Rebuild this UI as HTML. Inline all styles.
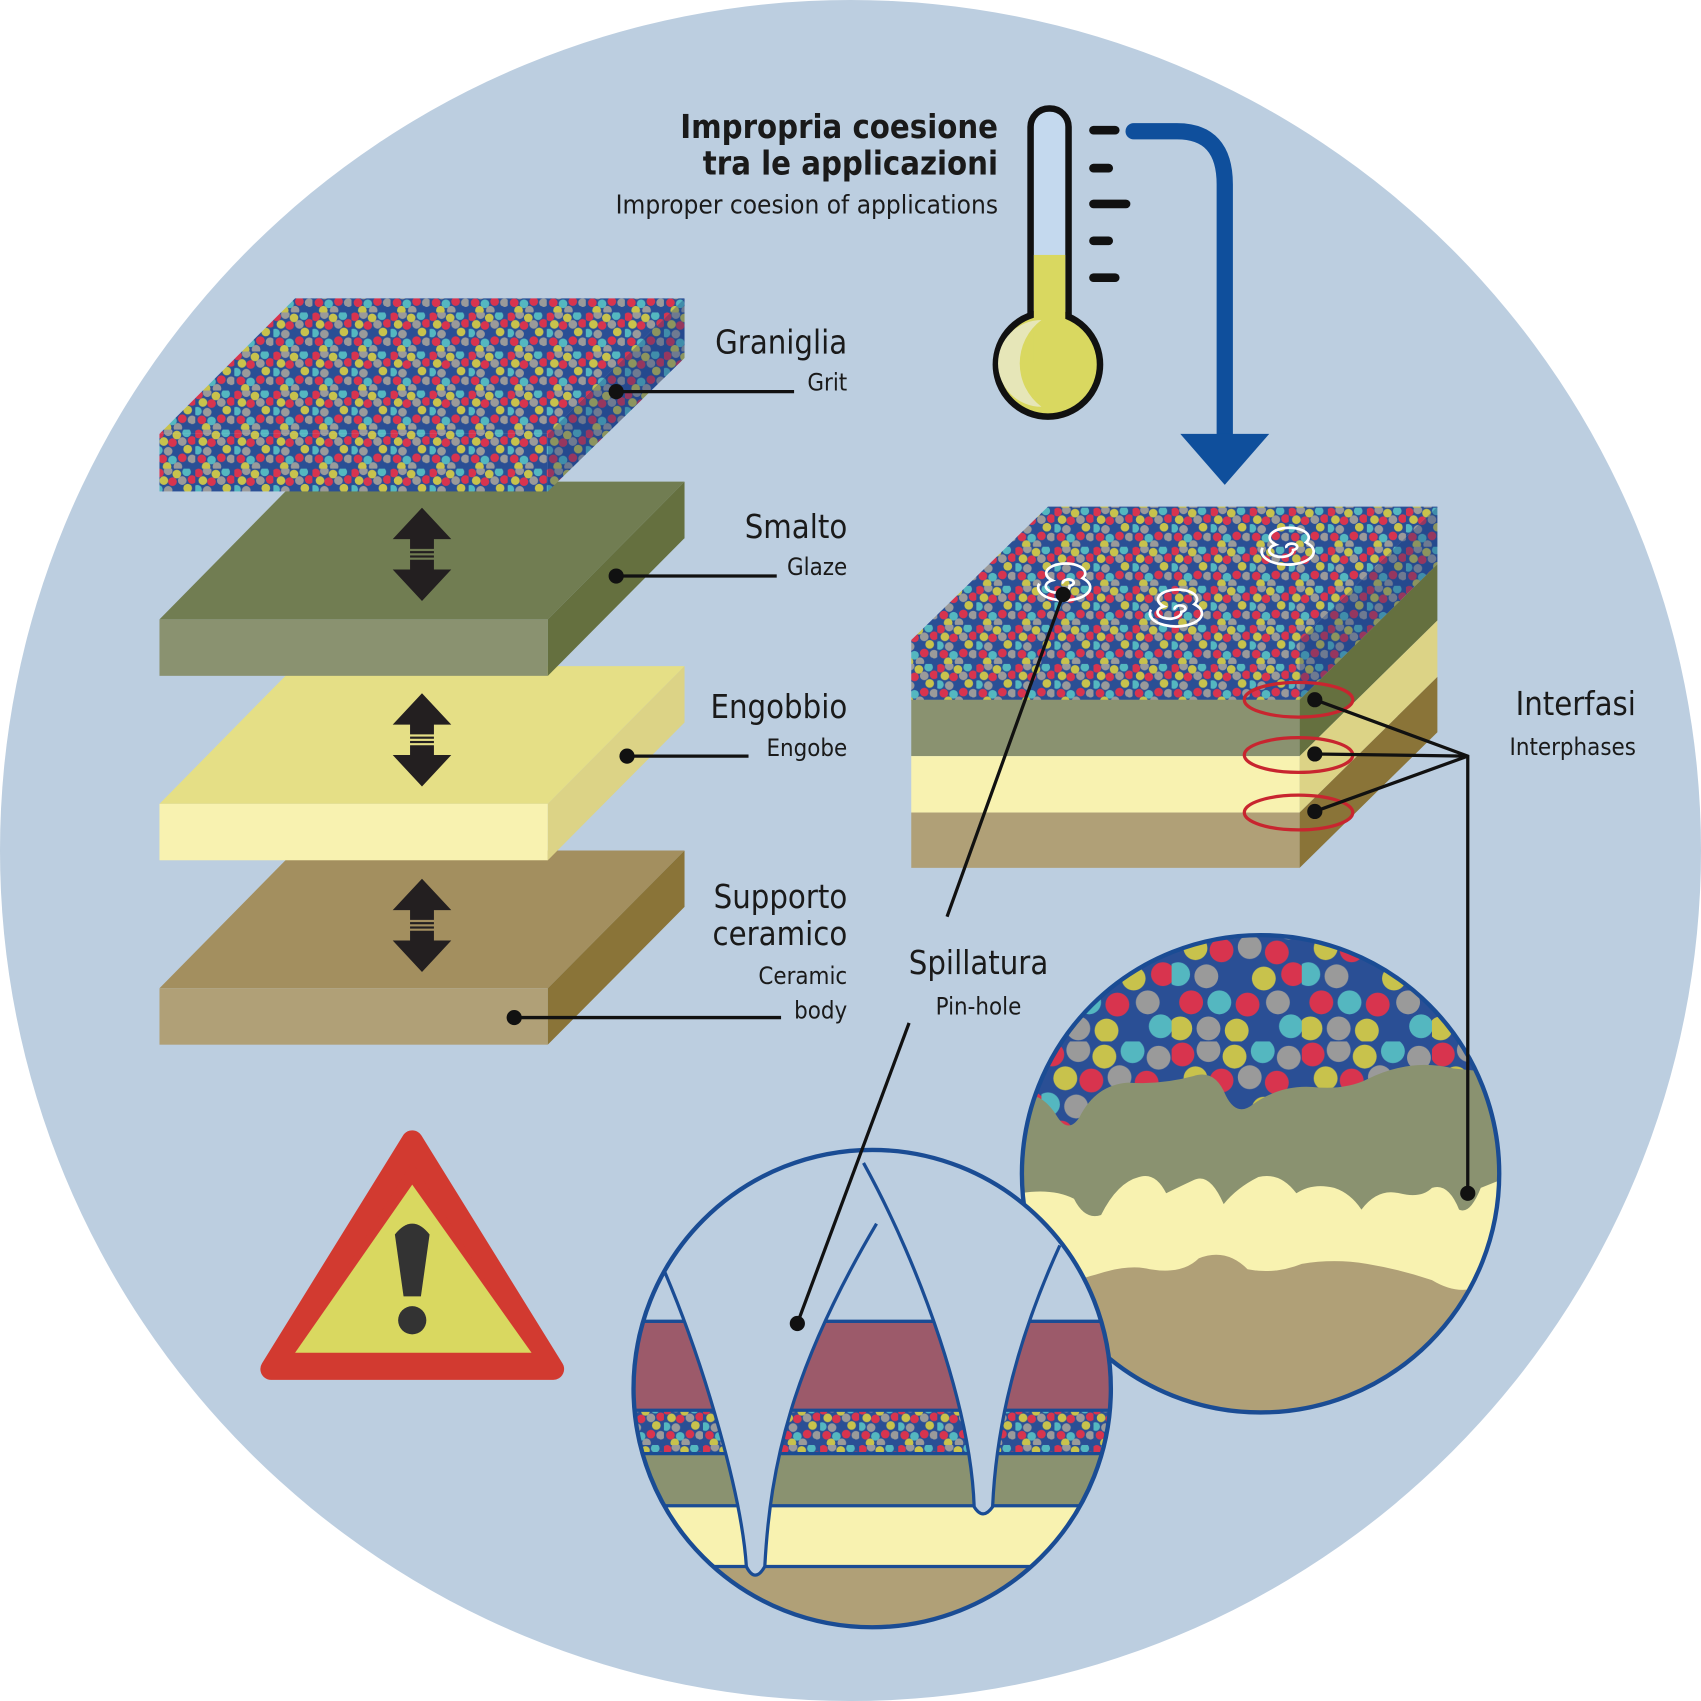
<!DOCTYPE html>
<html><head><meta charset="utf-8"><style>
html,body{margin:0;padding:0;background:#fff}
svg{display:block}
text{font-family:"DejaVu Sans Condensed","Liberation Sans",sans-serif;fill:#1a1a1a}
</style></head><body>
<svg width="1701" height="1701" viewBox="0 0 1568 1568" xmlns="http://www.w3.org/2000/svg">
<defs>
<pattern id="g" width="36" height="36" patternUnits="userSpaceOnUse">
<rect width="36" height="36" fill="#2a4f95"/>
<g>
<circle cx="3" cy="4" r="4" fill="#d8344e"/><circle cx="11" cy="2" r="4" fill="#9a9a9a"/>
<circle cx="19" cy="5" r="4" fill="#c8c24c"/><circle cx="28" cy="3" r="4" fill="#54b7c0"/>
<circle cx="7" cy="11" r="4" fill="#c8c24c"/><circle cx="15" cy="12" r="4" fill="#d8344e"/>
<circle cx="24" cy="11" r="4" fill="#9a9a9a"/><circle cx="33" cy="10" r="4" fill="#d8344e"/>
<circle cx="2" cy="19" r="4" fill="#54b7c0"/><circle cx="11" cy="20" r="4" fill="#9a9a9a"/>
<circle cx="20" cy="19" r="4" fill="#2a4f95"/><circle cx="29" cy="18" r="4" fill="#c8c24c"/>
<circle cx="6" cy="27" r="4" fill="#d8344e"/><circle cx="15" cy="28" r="4" fill="#54b7c0"/>
<circle cx="24" cy="26" r="4" fill="#d8344e"/><circle cx="33" cy="27" r="4" fill="#9a9a9a"/>
<circle cx="10" cy="34" r="4" fill="#c8c24c"/><circle cx="20" cy="34" r="4" fill="#9a9a9a"/>
<circle cx="30" cy="34" r="4" fill="#2a4f95"/>
</g>
</pattern>
<pattern id="gb" width="120" height="120" patternUnits="userSpaceOnUse">
<rect width="120" height="120" fill="#2a4f95"/>
<circle cx="10" cy="12" r="11" fill="#d8344e"/><circle cx="34" cy="8" r="11" fill="#9a9a9a"/>
<circle cx="58" cy="14" r="11" fill="#c8c24c"/><circle cx="84" cy="9" r="11" fill="#54b7c0"/>
<circle cx="108" cy="15" r="11" fill="#9a9a9a"/><circle cx="22" cy="34" r="11" fill="#c8c24c"/>
<circle cx="46" cy="36" r="11" fill="#d8344e"/><circle cx="72" cy="33" r="11" fill="#9a9a9a"/>
<circle cx="97" cy="38" r="11" fill="#d8344e"/><circle cx="6" cy="58" r="11" fill="#54b7c0"/>
<circle cx="32" cy="60" r="11" fill="#9a9a9a"/><circle cx="60" cy="58" r="11" fill="#2a4f95"/>
<circle cx="85" cy="62" r="11" fill="#c8c24c"/><circle cx="112" cy="58" r="11" fill="#d8344e"/>
<circle cx="18" cy="84" r="11" fill="#d8344e"/><circle cx="44" cy="84" r="11" fill="#54b7c0"/>
<circle cx="70" cy="86" r="11" fill="#d8344e"/><circle cx="98" cy="84" r="11" fill="#9a9a9a"/>
<circle cx="8" cy="108" r="11" fill="#c8c24c"/><circle cx="34" cy="108" r="11" fill="#9a9a9a"/>
<circle cx="60" cy="110" r="11" fill="#c8c24c"/><circle cx="86" cy="108" r="11" fill="#2a4f95"/>
<circle cx="110" cy="106" r="11" fill="#54b7c0"/>
</pattern>
<clipPath id="c1"><circle cx="1162" cy="1082" r="220"/></clipPath>
<clipPath id="c2"><circle cx="804" cy="1280" r="220"/></clipPath>
<g id="arr">
<path d="M0 -43 L-27 -14 L-11 -14 L-11 -5 L11 -5 L11 -14 L27 -14 Z" fill="#231f20"/>
<path d="M0 43 L-27 14 L-11 14 L-11 5 L11 5 L11 14 L27 14 Z" fill="#231f20"/>
<rect x="-11" y="-3" width="22" height="2" fill="#231f20"/><rect x="-11" y="1" width="22" height="2" fill="#231f20"/>
</g>
</defs>
<rect width="1568" height="1568" fill="#fff"/>
<circle cx="784" cy="784" r="784" fill="#bccee0"/>

<!-- left stack: supporto -->
<polygon points="147,911 272,784 631,784 505,911" fill="#a38f5f"/>
<rect x="147" y="911" width="358" height="52" fill="#b0a077"/>
<polygon points="505,911 631,784 631,836 505,963" fill="#8a7438"/>
<polygon points="147,741 272,614 631,614 505,741" fill="#e5df86"/>
<rect x="147" y="741" width="358" height="52" fill="#f8f2b0"/>
<polygon points="505,741 631,614 631,666 505,793" fill="#dcd386"/>
<polygon points="147,571 272,444 631,444 505,571" fill="#717d52"/>
<rect x="147" y="571" width="358" height="52" fill="#8a9270"/>
<polygon points="505,571 631,444 631,496 505,623" fill="#65703f"/>
<polygon points="147,400 272,275 631,275 505,400" fill="url(#g)"/>
<rect x="147" y="400" width="358" height="53" fill="url(#g)"/>
<polygon points="505,400 631,275 631,330 505,453" fill="url(#g)"/>
<polygon points="505,400 631,275 631,330 505,453" fill="#1e3f80" opacity="0.35"/>

<use href="#arr" x="389" y="511"/>
<use href="#arr" x="389" y="682"/>
<use href="#arr" x="389" y="853"/>

<g stroke="#111" stroke-width="3"><line x1="568" y1="361" x2="732" y2="361"/><line x1="568" y1="531" x2="716" y2="531"/><line x1="578" y1="697" x2="690" y2="697"/><line x1="474" y1="938" x2="720" y2="938"/></g>
<g fill="#111"><circle cx="568" cy="361" r="7"/><circle cx="568" cy="531" r="7"/><circle cx="578" cy="697" r="7"/><circle cx="474" cy="938" r="7"/></g>
<g text-anchor="end">
<text x="781" y="326" font-size="30">Graniglia</text><text x="781" y="360" font-size="22">Grit</text>
<text x="781" y="496" font-size="30">Smalto</text><text x="781" y="530" font-size="22">Glaze</text>
<text x="781" y="662" font-size="30">Engobbio</text><text x="781" y="697" font-size="22">Engobe</text>
<text x="781" y="837" font-size="30">Supporto</text><text x="781" y="871" font-size="30">ceramico</text>
<text x="781" y="907" font-size="22">Ceramic</text><text x="781" y="939" font-size="22">body</text>
<text x="920" y="127" font-size="30" font-weight="bold">Impropria coesione</text>
<text x="920" y="161" font-size="30" font-weight="bold">tra le applicazioni</text>
<text x="920" y="197" font-size="24">Improper coesion of applications</text>
<text x="1508" y="659" font-size="30">Interfasi</text><text x="1508" y="696" font-size="22">Interphases</text>
</g>
<text x="902" y="898" font-size="30" text-anchor="middle">Spillatura</text>
<text x="902" y="935" font-size="22" text-anchor="middle">Pin-hole</text>

<!-- thermometer -->
<rect x="950" y="100" width="35" height="230" rx="17" fill="#c4d9ee" stroke="#111" stroke-width="6"/>
<circle cx="966" cy="336" r="48" fill="#d9d860" stroke="#111" stroke-width="6"/>
<rect x="953" y="235" width="29" height="100" fill="#d9d860"/>
<path d="M960 295 a40 40 0 0 0 0 80 a50 50 0 0 1 0 -80z" fill="#e6e6b8"/>
<g stroke="#111" stroke-width="8" stroke-linecap="round"><line x1="1008" y1="120" x2="1028" y2="120"/><line x1="1008" y1="155" x2="1022" y2="155"/><line x1="1008" y1="188" x2="1038" y2="188"/><line x1="1008" y1="222" x2="1022" y2="222"/><line x1="1008" y1="256" x2="1028" y2="256"/></g>
<path d="M1045 121 L1085 121 Q1129 121 1129 170 L1129 405" fill="none" stroke="#0f4f9c" stroke-width="15" stroke-linecap="round"/>
<polygon points="1088,400 1170,400 1129,447" fill="#0f4f9c"/>

<!-- right block -->
<polygon points="840,590 966,467 1325,467 1198,590" fill="url(#g)"/>
<rect x="840" y="590" width="358" height="56" fill="url(#g)"/>
<rect x="840" y="645" width="358" height="52" fill="#8a9270"/>
<rect x="840" y="697" width="358" height="52" fill="#f8f2b0"/>
<rect x="840" y="749" width="358" height="51" fill="#b0a077"/>
<polygon points="1198,590 1325,467 1325,520 1198,645" fill="url(#g)"/>
<polygon points="1198,590 1325,467 1325,520 1198,645" fill="#1e3f80" opacity="0.35"/>
<polygon points="1198,645 1325,520 1325,572 1198,697" fill="#65703f"/>
<polygon points="1198,697 1325,572 1325,624 1198,749" fill="#dcd386"/>
<polygon points="1198,749 1325,624 1325,675 1198,800" fill="#8a7438"/>
<g fill="none" stroke="#fff" stroke-width="2.5">
<path d="M980 538 a5 3 0 1 1 6 2 a11 6 0 1 1 -16 -5 a18 9 0 1 1 28 -2 a24 12 0 1 1 -40 5"/>
<path d="M1083 562 a5 3 0 1 1 6 2 a11 6 0 1 1 -16 -5 a18 9 0 1 1 28 -2 a24 12 0 1 1 -40 5"/>
<path d="M1186 505 a5 3 0 1 1 6 2 a11 6 0 1 1 -16 -5 a18 9 0 1 1 28 -2 a24 12 0 1 1 -40 5"/>
</g>
<g fill="none" stroke="#c8252f" stroke-width="3"><ellipse cx="1197" cy="645" rx="50" ry="16"/><ellipse cx="1197" cy="696" rx="50" ry="16"/><ellipse cx="1197" cy="749" rx="50" ry="16"/></g>

<!-- magnified right -->
<g clip-path="url(#c1)">
<rect x="940" y="860" width="450" height="450" fill="url(#gb)"/>
<path d="M940 1010 Q960 1005 975 1030 Q985 1045 995 1030 Q1010 1000 1040 998 Q1070 1000 1100 992 Q1120 985 1130 1010 Q1140 1030 1155 1018 Q1180 1000 1210 1002 Q1240 1005 1260 995 Q1300 975 1340 985 L1390 990 L1390 1320 L940 1320Z" fill="#8a9270"/>
<path d="M940 1100 Q970 1095 990 1105 Q1000 1125 1015 1120 Q1030 1090 1050 1085 Q1065 1080 1075 1100 Q1085 1095 1100 1088 Q1115 1080 1128 1110 Q1140 1095 1160 1085 Q1180 1080 1195 1100 Q1210 1090 1230 1095 Q1245 1100 1255 1115 Q1270 1095 1290 1100 Q1310 1105 1320 1095 Q1335 1090 1345 1115 Q1355 1120 1365 1095 L1390 1085 L1390 1320 L940 1320Z" fill="#f8f2b0"/>
<path d="M940 1200 Q990 1180 1010 1175 Q1040 1165 1060 1170 Q1090 1175 1105 1160 Q1130 1150 1150 1170 Q1175 1175 1200 1165 Q1230 1160 1260 1165 Q1290 1170 1320 1180 Q1345 1195 1365 1185 L1390 1180 L1390 1320 L940 1320Z" fill="#b0a077"/>
</g>
<circle cx="1162" cy="1082" r="220" fill="none" stroke="#1a4c94" stroke-width="4"/>

<!-- magnified bottom -->
<g clip-path="url(#c2)">
<rect x="580" y="1050" width="450" height="460" fill="#bccee0"/>
<rect x="580" y="1218" width="450" height="82" fill="#9c5a6a"/>
<rect x="580" y="1300" width="450" height="40" fill="url(#g)"/>
<rect x="580" y="1340" width="450" height="48" fill="#8a9270"/>
<rect x="580" y="1388" width="450" height="56" fill="#f8f2b0"/>
<rect x="580" y="1444" width="450" height="80" fill="#b0a077"/>
<g stroke="#1a4c94" stroke-width="3"><line x1="580" y1="1218" x2="1030" y2="1218"/><line x1="580" y1="1300" x2="1030" y2="1300"/><line x1="580" y1="1340" x2="1030" y2="1340"/><line x1="580" y1="1388" x2="1030" y2="1388"/><line x1="580" y1="1444" x2="1030" y2="1444"/></g>
<path d="M613 1173 C650 1260 684 1380 688 1444 Q696 1460 705 1444 C710 1350 730 1260 808 1128 L700 1100 Z" fill="#bccee0"/>
<path d="M796 1072 C850 1170 895 1300 898 1389 Q906 1402 915 1389 C918 1320 935 1240 977 1148 L880 1060 Z" fill="#bccee0"/>
<g fill="none" stroke="#1a4c94" stroke-width="3">
<path d="M613 1173 C650 1260 684 1380 688 1444 Q696 1460 705 1444 C710 1350 730 1260 808 1128"/>
<path d="M796 1072 C850 1170 895 1300 898 1389 Q906 1402 915 1389 C918 1320 935 1240 977 1148"/>
</g>
</g>
<circle cx="804" cy="1280" r="220" fill="none" stroke="#1a4c94" stroke-width="4"/>

<!-- leaders -->
<g stroke="#111" stroke-width="3" fill="none">
<polyline points="1212,645 1353,697 1353,1100"/><line x1="1212" y1="695" x2="1353" y2="697"/><line x1="1212" y1="748" x2="1353" y2="697"/>
<line x1="980" y1="548" x2="873" y2="845"/><line x1="838" y1="943" x2="735" y2="1220"/>
</g>
<g fill="#111"><circle cx="1212" cy="645" r="7"/><circle cx="1212" cy="695" r="7"/><circle cx="1212" cy="748" r="7"/><circle cx="1353" cy="1100" r="7"/><circle cx="980" cy="548" r="7"/><circle cx="735" cy="1220" r="7"/></g>

<!-- warning -->
<path d="M380 1052 L510 1262 L250 1262 Z" fill="#d23a30" stroke="#d23a30" stroke-width="20" stroke-linejoin="round"/>
<path d="M380 1092 L490 1247 L272 1247 Z" fill="#d9d860"/>
<path d="M364 1138 Q380 1118 396 1138 L388 1195 L372 1195 Z" fill="#333"/>
<circle cx="380" cy="1217" r="13" fill="#333"/>
</svg>
</body></html>
